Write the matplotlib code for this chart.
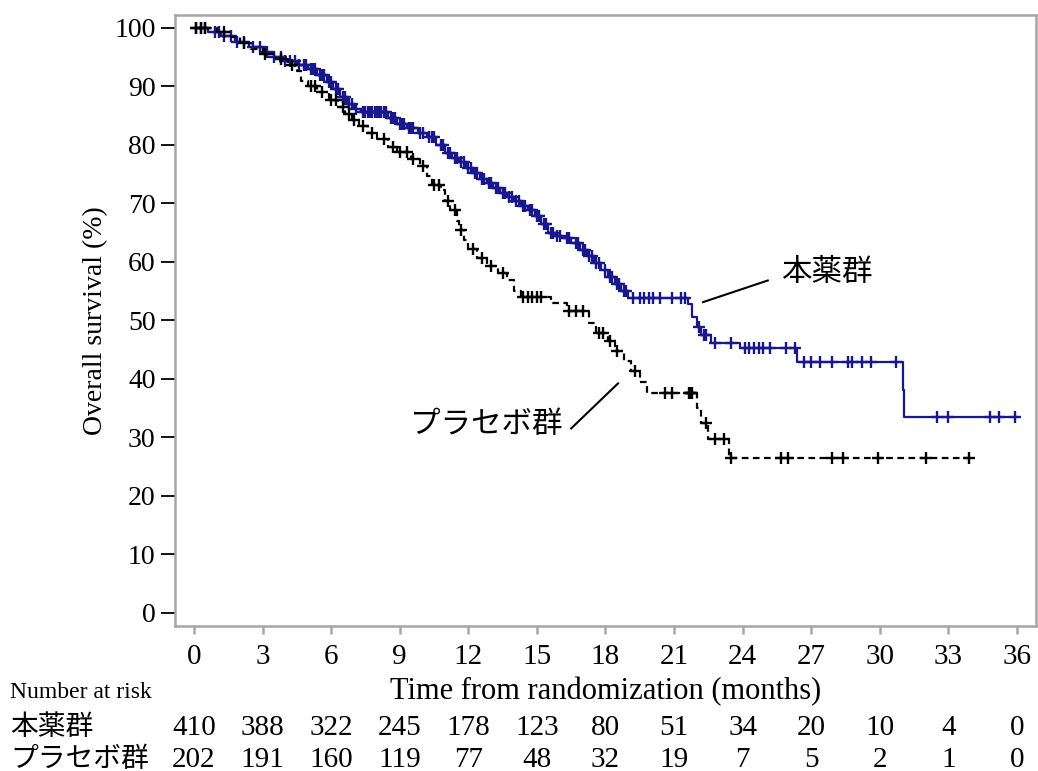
import numpy as np
import matplotlib
matplotlib.use('Agg')
import matplotlib.pyplot as plt
from matplotlib.transforms import blended_transform_factory

plt.rcParams['font.family'] = ['Liberation Serif', 'Noto Sans CJK JP']

# ---------------------------------------------------------------------------
# Data
# ---------------------------------------------------------------------------
drug_times = [0, 0.6, 1.2, 1.8, 2.4, 3.0, 3.5, 4.0, 4.5, 5.0, 5.4, 5.8, 6.1, 6.4,
              6.7, 7.0, 7.3, 8.5, 8.9, 9.3, 9.8, 10.2, 10.6, 11.0, 11.3, 11.6,
              11.9, 12.2, 12.5, 12.8, 13.1, 13.4, 13.7, 14.0, 14.3, 14.6, 14.9,
              15.2, 15.5, 15.8, 16.1, 16.5, 16.9, 17.2, 17.5, 17.8, 18.1, 18.4,
              18.7, 19.0, 21.6, 21.8, 22.0, 22.2, 22.6, 23.9, 26.4, 31.0, 31.05]
drug_surv = [100, 99.3, 98.6, 97.6, 96.8, 95.8, 95.0, 94.4, 93.6, 92.9, 92.0, 90.8,
             89.6, 88.2, 87.0, 86.2, 85.6, 84.6, 83.6, 82.8, 82.0, 81.3, 80.0,
             78.6, 77.8, 77.0, 76.0, 75.2, 74.2, 73.4, 72.6, 71.8, 71.0, 70.4,
             69.6, 68.8, 67.8, 66.4, 65.0, 64.4, 64.0, 63.2, 62.0, 61.0, 59.8,
             58.6, 57.4, 56.2, 55.0, 53.8, 52.8, 50.5, 48.8, 47.4, 46.1, 45.2,
             42.8, 38.0, 33.4]
drug_end = 36.0
drug_censor = [0.1, 0.3, 0.5, 0.9, 1.1, 1.3, 1.6, 1.9, 2.2, 2.6, 2.9, 3.2, 3.5,
               3.8, 4.0, 4.2, 4.4, 4.6, 4.8, 4.9, 5.1, 5.2, 5.3, 5.5, 5.6, 5.7,
               5.9, 6.0, 6.2, 6.3, 6.5, 6.6, 6.8, 6.9, 7.1, 7.4, 7.5, 7.6, 7.7,
               7.8, 7.9, 8.0, 8.1, 8.2, 8.3, 8.4, 8.6, 8.7, 8.8, 9.0, 9.1, 9.2,
               9.4, 9.5, 9.6, 9.9, 10.0, 10.3, 10.4, 10.5, 10.8, 10.9, 11.1,
               11.2, 11.4, 11.5, 11.7, 11.8, 12.0, 12.1, 12.3, 12.4, 12.6, 12.7,
               12.9, 13.0, 13.2, 13.3, 13.5, 13.6, 13.8, 13.9, 14.1, 14.2, 14.4,
               14.5, 14.7, 14.8, 15.0, 15.1, 15.3, 15.4, 15.6, 15.7, 15.9, 16.0,
               16.3, 16.4, 16.7, 16.8, 17.0, 17.1, 17.3, 17.4, 17.6, 17.7, 18.0,
               18.2, 18.3, 18.5, 18.6, 18.8, 18.9, 19.2, 19.5, 19.7, 19.9, 20.1,
               20.4, 20.9, 21.3, 21.5, 22.1, 22.3, 22.4, 22.8, 23.5, 24.1, 24.3,
               24.5, 24.7, 24.9, 25.2, 25.9, 26.3, 26.7, 27.0, 27.4, 27.9, 28.6,
               28.8, 29.2, 29.6, 30.7, 32.5, 33.0, 34.8, 35.2, 35.9]

plac_times = [0, 1.0, 1.6, 2.0, 2.5, 3.0, 3.6, 4.1, 4.5, 4.7, 5.0, 5.4, 5.9, 6.3,
              6.6, 6.9, 7.2, 7.6, 8.0, 8.5, 8.9, 9.5, 9.9, 10.2, 10.4, 10.8,
              11.0, 11.2, 11.5, 11.6, 11.8, 12.0, 12.4, 12.8, 13.3, 13.7, 14.0,
              14.3, 15.6, 16.3, 17.3, 17.6, 18.1, 18.4, 18.8, 19.1, 19.5, 19.8,
              22.0, 22.2, 22.5, 23.4]
plac_surv = [100, 99.3, 98.4, 97.5, 96.4, 95.6, 94.6, 93.6, 92.6, 91.0, 90.0,
             89.0, 87.6, 86.4, 85.3, 84.3, 83.3, 82.0, 81.0, 79.6, 78.8, 77.6,
             76.4, 74.6, 73.2, 72.2, 70.4, 68.8, 67.0, 65.4, 63.8, 62.2, 60.6,
             59.2, 58.0, 56.8, 55.0, 53.9, 53.0, 51.6, 49.6, 47.9, 46.5, 44.8,
             43.0, 41.3, 39.5, 37.6, 35.0, 32.4, 29.7, 26.5]
plac_end = 34.0
plac_censor = [0.1, 0.3, 0.5, 1.3, 2.2, 3.1, 3.8, 4.3, 5.1, 5.3, 5.6, 6.0, 6.2,
               6.5, 6.8, 7.0, 7.4, 7.8, 8.3, 8.7, 9.0, 9.3, 9.6, 10.0, 10.5,
               10.7, 11.1, 11.4, 11.7, 12.2, 12.6, 13.0, 13.5, 14.4, 14.6, 14.8,
               15.0, 15.2, 16.4, 16.7, 17.0, 17.7, 17.9, 18.2, 18.5, 19.3, 20.6,
               20.9, 21.65, 21.7, 21.75, 21.8, 22.4, 22.8, 23.2, 23.5, 25.7,
               26.0, 27.9, 28.4, 29.9, 32.0, 33.9]

x_ticks = list(range(0, 37, 3))
y_ticks = list(range(0, 101, 10))
groups = ['本薬群', 'プラセボ群']
risk_drug = [410, 388, 322, 245, 178, 123, 80, 51, 34, 20, 10, 4, 0]
risk_plac = [202, 191, 160, 119, 77, 48, 32, 19, 7, 5, 2, 1, 0]

BLUE = '#18188c'
GRAY = '#a6a6a6'


def step_value(times, surv, t):
    idx = np.searchsorted(times, t, side='right') - 1
    return np.asarray(surv)[idx]


fig = plt.figure(figsize=(10.38, 7.71), dpi=100)
ax = fig.add_axes([0.1686, 0.188, 0.8294, 0.7925])

# curves
for times, surv, end, cens, color, ls in [
        (drug_times, drug_surv, drug_end, drug_censor, BLUE, '-'),
        (plac_times, plac_surv, plac_end, plac_censor, 'black', (0, (3, 2)))]:
    t = list(times) + [end]
    s = list(surv) + [surv[-1]]
    ax.step(t, s, where='post', color=color, lw=1.6, linestyle=ls)
    ax.plot(cens, step_value(times, surv, np.array(cens)), linestyle='none',
            marker='+', ms=9, mew=1.7, color=color)

ax.set_xlim(-0.83, 36.83)
ax.set_ylim(-2.3, 102.2)
ax.set_xticks(x_ticks)
ax.set_yticks(y_ticks)
ax.tick_params(axis='x', colors=GRAY, labelcolor='black', length=6, width=1.8,
               labelsize=21, pad=7)
ax.tick_params(axis='y', color='black', length=10, width=1.3, labelsize=20, pad=4)
for sp in ax.spines.values():
    sp.set_color(GRAY)
    sp.set_linewidth(1.8)

ax.set_ylabel('Overall survival (%)', fontsize=20, va='center')
ax.yaxis.set_label_coords(-0.092, 0.5)
ax.set_xlabel('Time from randomization (months)', fontsize=22, va='center')
ax.xaxis.set_label_coords(0.5, -0.108)

# group labels
ax.text(25.7, 58.0, groups[0], fontsize=22, va='center', ha='left')
ax.plot([22.27, 25.1], [53.1, 56.8], color='black', lw=1.5)
ax.text(16.1, 32.0, groups[1], fontsize=22, va='center', ha='right')
ax.plot([16.5, 18.55], [31.5, 39.2], color='black', lw=1.5)

# number at risk table
trans = blended_transform_factory(ax.transData, fig.transFigure)
fig.text(10 / 1038, 1 - 692 / 771, 'Number at risk', fontsize=17, va='center')
for row_y, name, counts in [(1 - 728 / 771, groups[0], risk_drug),
                            (1 - 760 / 771, groups[1], risk_plac)]:
    fig.text(10 / 1038, row_y, name, fontsize=20, va='center')
    for xt, n in zip(x_ticks, counts):
        ax.text(xt, row_y, str(n), transform=trans, fontsize=21,
                ha='center', va='center')

fig.savefig('out.png', dpi=100)
